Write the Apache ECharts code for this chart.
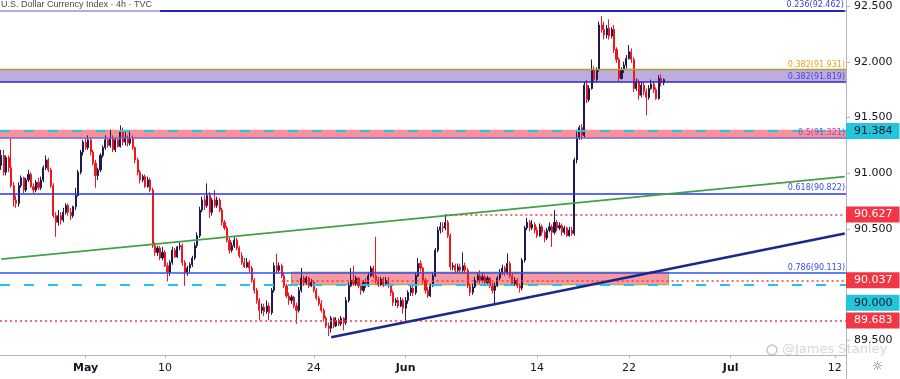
<!DOCTYPE html>
<html><head><meta charset="utf-8">
<script src="https://cdn.jsdelivr.net/npm/echarts@6/dist/echarts.min.js"></script>
<style>html,body{margin:0;padding:0;background:#fff}#c{width:900px;height:379px}</style>
</head><body><div id="c"></div>
<script>
// 4h bars, U.S. Dollar Currency Index
const opens = [
91.07,91.16,91.01,91.14,91.05,90.89,90.76,90.73,90.89,90.96,
90.85,90.94,90.99,90.88,90.85,90.92,90.87,90.94,91.05,91.12,
91.03,90.89,90.62,90.56,90.62,90.58,90.65,90.71,90.65,90.62,
90.70,90.80,91.01,91.19,91.28,91.23,91.30,91.19,91.09,90.98,
91.03,91.16,91.23,91.30,91.25,91.31,91.21,91.30,91.24,91.37,
91.28,91.32,91.27,91.31,91.23,91.12,91.01,90.94,90.97,90.88,
90.94,90.85,90.35,90.29,90.33,90.24,90.29,90.17,90.11,90.20,
90.31,90.25,90.34,90.35,90.20,90.11,90.15,90.18,90.24,90.35,
90.44,90.67,90.76,90.71,90.80,90.65,90.76,90.71,90.76,90.67,
90.56,90.51,90.40,90.31,90.35,90.40,90.33,90.26,90.20,90.16,
90.20,90.15,90.04,89.95,89.86,89.77,89.80,89.76,89.81,89.75,
89.95,90.17,90.13,90.17,90.08,89.99,89.90,89.86,89.89,89.81,
89.77,89.95,90.06,90.02,90.06,89.99,90.02,89.95,89.88,89.83,
89.77,89.70,89.63,89.61,89.70,89.63,89.68,89.65,89.70,89.66,
89.86,89.99,90.04,90.01,90.06,89.99,89.95,90.02,89.99,90.08,
90.15,90.08,90.04,90.00,90.05,90.00,90.04,89.99,89.93,89.84,
89.86,89.81,89.86,89.79,89.86,89.93,89.97,89.93,90.08,90.19,
90.15,90.04,89.95,89.90,89.99,90.08,90.31,90.49,90.52,90.51,
90.56,90.44,90.16,90.17,90.13,90.16,90.13,90.17,90.13,89.99,
89.93,89.98,90.04,90.08,90.04,90.07,90.02,90.06,89.99,89.95,
89.99,90.06,90.11,90.15,90.11,90.19,90.08,90.01,90.04,89.99,
89.97,90.22,90.51,90.56,90.51,90.54,90.49,90.44,90.52,90.47,
90.42,90.49,90.52,90.47,90.56,90.51,90.53,90.47,90.51,90.44,
90.49,90.46,91.12,91.32,91.41,91.34,91.79,91.66,91.76,91.93,
91.84,91.93,92.33,92.29,92.24,92.30,92.23,92.29,92.11,92.02,
91.85,91.93,91.97,92.03,92.09,92.02,91.76,91.82,91.70,91.79,
91.73,91.68,91.76,91.80,91.75,91.67,91.85,91.81];
const closes = [
91.16,91.01,91.14,91.05,90.89,90.76,90.73,90.89,90.96,90.85,
90.94,90.99,90.88,90.85,90.92,90.87,90.94,91.05,91.12,91.03,
90.89,90.62,90.56,90.62,90.58,90.65,90.71,90.65,90.62,90.70,
90.80,91.01,91.19,91.28,91.23,91.30,91.19,91.09,90.98,91.03,
91.16,91.23,91.30,91.25,91.31,91.21,91.30,91.24,91.37,91.28,
91.32,91.27,91.31,91.23,91.12,91.01,90.94,90.97,90.88,90.94,
90.85,90.35,90.29,90.33,90.24,90.29,90.17,90.11,90.20,90.31,
90.25,90.34,90.35,90.20,90.11,90.15,90.18,90.24,90.35,90.44,
90.67,90.76,90.71,90.80,90.65,90.76,90.71,90.76,90.67,90.56,
90.51,90.40,90.31,90.35,90.40,90.33,90.26,90.20,90.16,90.20,
90.15,90.04,89.95,89.86,89.77,89.80,89.76,89.81,89.75,89.95,
90.17,90.13,90.17,90.08,89.99,89.90,89.86,89.89,89.81,89.77,
89.95,90.06,90.02,90.06,89.99,90.02,89.95,89.88,89.83,89.77,
89.70,89.63,89.61,89.70,89.63,89.68,89.65,89.70,89.66,89.86,
89.99,90.04,90.01,90.06,89.99,89.95,90.02,89.99,90.08,90.15,
90.08,90.04,90.00,90.05,90.00,90.04,89.99,89.93,89.84,89.86,
89.81,89.86,89.79,89.86,89.93,89.97,89.93,90.08,90.19,90.15,
90.04,89.95,89.90,89.99,90.08,90.31,90.49,90.52,90.51,90.56,
90.44,90.16,90.17,90.13,90.16,90.13,90.17,90.13,89.99,89.93,
89.98,90.04,90.08,90.04,90.07,90.02,90.06,89.99,89.95,89.99,
90.06,90.11,90.15,90.11,90.19,90.08,90.01,90.04,89.99,89.97,
90.22,90.51,90.56,90.51,90.54,90.49,90.44,90.52,90.47,90.42,
90.49,90.52,90.47,90.56,90.51,90.53,90.47,90.51,90.44,90.49,
90.46,91.12,91.32,91.41,91.34,91.79,91.66,91.76,91.93,91.84,
91.93,92.33,92.29,92.24,92.30,92.23,92.29,92.11,92.02,91.85,
91.93,91.97,92.03,92.09,92.02,91.76,91.82,91.70,91.79,91.73,
91.68,91.76,91.80,91.75,91.67,91.85,91.81,91.84];
const highs = [
91.21,91.21,91.16,91.16,91.31,90.92,90.80,90.92,90.98,90.97,
90.96,91.03,91.01,90.91,90.94,90.96,90.97,91.07,91.16,91.14,
91.05,90.91,90.65,90.67,90.65,90.69,90.73,90.73,90.69,90.71,
90.87,91.03,91.21,91.30,91.31,91.34,91.32,91.21,91.12,91.05,
91.18,91.25,91.34,91.32,91.39,91.34,91.32,91.31,91.43,91.41,
91.37,91.34,91.37,91.34,91.24,91.14,91.03,90.99,90.99,90.97,
90.96,90.87,90.38,90.35,90.35,90.34,90.31,90.20,90.22,90.34,
90.33,90.35,90.38,90.37,90.22,90.17,90.20,90.26,90.38,90.47,
90.70,90.79,90.80,90.91,90.83,90.78,90.85,90.79,90.78,90.69,
90.58,90.53,90.42,90.38,90.43,90.42,90.35,90.29,90.24,90.24,
90.22,90.17,90.06,89.97,89.88,89.83,89.83,89.86,89.84,89.97,
90.20,90.28,90.20,90.19,90.11,90.01,89.93,89.91,89.90,89.84,
89.98,90.15,90.08,90.08,90.07,90.05,90.04,89.97,89.90,89.86,
89.79,89.72,89.66,89.72,89.71,89.71,89.70,89.72,89.71,89.89,
90.02,90.15,90.17,90.08,90.07,90.01,90.04,90.06,90.11,90.17,
90.17,90.43,90.07,90.07,90.07,90.07,90.07,90.01,89.95,89.88,
89.89,89.89,89.88,89.89,89.95,89.99,89.99,90.11,90.24,90.22,
90.16,90.06,89.98,90.01,90.11,90.33,90.52,90.56,90.56,90.63,
90.58,90.46,90.20,90.19,90.19,90.19,90.29,90.20,90.15,90.01,
90.01,90.07,90.11,90.13,90.10,90.09,90.08,90.07,90.02,90.02,
90.08,90.14,90.18,90.17,90.28,90.21,90.10,90.07,90.06,90.01,
90.24,90.53,90.60,90.58,90.58,90.56,90.52,90.55,90.54,90.49,
90.51,90.56,90.54,90.67,90.58,90.56,90.55,90.53,90.52,90.52,
90.52,91.14,91.39,91.43,91.44,91.82,91.84,91.79,92.02,91.96,
91.95,92.36,92.41,92.36,92.33,92.38,92.31,92.33,92.13,92.04,
91.95,92.00,92.06,92.15,92.12,92.04,91.85,91.84,91.82,91.82,
91.76,91.79,91.84,91.82,91.77,91.88,91.89,91.85];
const lows = [
91.03,90.98,90.98,91.01,90.87,90.70,90.69,90.70,90.87,90.82,
90.83,90.92,90.87,90.82,90.83,90.85,90.85,90.92,91.03,91.01,
90.87,90.60,90.43,90.53,90.54,90.56,90.63,90.62,90.58,90.60,
90.67,90.79,90.99,91.16,91.21,91.21,91.16,91.07,90.87,90.94,
91.01,91.14,91.21,91.23,91.23,91.19,91.19,91.23,91.23,91.25,
91.25,91.24,91.25,91.21,91.09,90.98,90.91,90.92,90.87,90.87,
90.83,90.33,90.26,90.26,90.22,90.22,90.16,90.03,90.08,90.18,
90.24,90.24,90.31,90.17,89.99,90.08,90.11,90.16,90.22,90.33,
90.42,90.65,90.67,90.69,90.60,90.62,90.69,90.69,90.65,90.53,
90.49,90.38,90.28,90.29,90.33,90.31,90.24,90.18,90.15,90.15,
90.11,90.02,89.92,89.83,89.68,89.74,89.72,89.74,89.68,89.73,
89.93,90.10,90.11,90.06,89.97,89.88,89.82,89.83,89.79,89.65,
89.75,89.93,89.99,90.00,89.97,89.98,89.93,89.86,89.81,89.75,
89.67,89.61,89.54,89.57,89.61,89.62,89.63,89.63,89.59,89.64,
89.84,89.98,89.99,89.99,89.97,89.91,89.93,89.97,89.98,90.07,
90.06,90.01,89.98,89.99,89.98,89.99,89.97,89.90,89.81,89.81,
89.79,89.80,89.74,89.68,89.83,89.90,89.90,89.91,90.07,90.12,
90.01,89.92,89.88,89.89,89.98,90.07,90.29,90.46,90.47,90.49,
90.42,90.13,90.13,90.10,90.11,90.10,90.11,90.10,89.97,89.90,
89.91,89.97,90.02,90.01,90.02,89.99,90.00,89.97,89.92,89.83,
89.98,90.04,90.09,90.08,90.09,90.06,89.99,89.99,89.97,89.93,
89.95,90.20,90.49,90.48,90.49,90.46,90.42,90.43,90.44,90.38,
90.40,90.47,90.34,90.45,90.48,90.49,90.44,90.45,90.43,90.43,
90.44,90.44,91.09,91.30,91.30,91.32,91.63,91.64,91.75,91.81,
91.82,91.91,92.26,92.20,92.21,92.20,92.21,92.08,91.99,91.82,
91.84,91.90,91.94,92.02,91.99,91.73,91.74,91.66,91.68,91.70,
91.52,91.66,91.75,91.72,91.66,91.66,91.78,91.79];

// time-axis slots (bars plus empty future space) and tick labels
const slotCount = 341;
const tickIndex = [34, 66, 126, 163, 216, 253, 294, 336];
const tickText = ['May', '10', '24', 'Jun', '14', '22', 'Jul', '12'];
const monthTicks = ['May', 'Jun', 'Jul'];

// drawn levels
const fibValues = [92.462, 91.931, 91.819, 91.321, 90.822, 90.113];
const fibText = ['0.236(92.462)', '0.382(91.931)', '0.382(91.819)', '0.5(91.321)', '0.618(90.822)', '0.786(90.113)'];
const cyanLevels = [91.384, 90.000];
const redLevels = [90.627, 90.037, 89.683];
const redLevelStart = [179, 113, 0];
const greenTrend = [[0, 90.23], [340, 90.97]];
const navyTrend = [[133, 89.53], [340, 90.46]];
const supportBox = [[117, 90.113], [269, 90.0]];
const redBand = [91.321, 91.39];
const purpleBand = [91.819, 91.931];

const cats = Array.from({length: slotCount}, (_, i) => String(i));
const candles = opens.map((o, i) => [o, closes[i], lows[i], highs[i]]);

const FONT = 'DejaVu Sans';
const fibColors = ['#3d3dd8', '#f0a020', '#4646d8', '#9a4fc0', '#3b4bf0', '#3b4bf0'];
const fibLineColors = ['#2424c0', '#a8a628', '#2a2ac8', '#7a5ad0', '#1f35ff', '#3550e8'];
const fibWidths = [2, 1.3, 1.6, 1.5, 1.5, 1.5];

const ml = [];
ml.push({yAxis: fibValues[0], lineStyle: {color: '#a8b0ea', width: 2, type: 'solid'}, label: {show: false}});
fibValues.forEach((v, k) => {
  const lab = {show: true, position: 'insideEndTop', formatter: fibText[k], color: fibColors[k],
    fontSize: 8, fontFamily: FONT, distance: 1};
  if (k === 0) {
    ml.push([{coord: [64, v], lineStyle: {color: fibLineColors[k], width: fibWidths[k], type: 'solid'}, label: lab}, {coord: [340, v]}]);
  } else {
    ml.push({yAxis: v, lineStyle: {color: fibLineColors[k], width: fibWidths[k], type: 'solid'}, label: lab});
  }
});
cyanLevels.forEach(v => {
  ml.push({yAxis: v, lineStyle: {color: '#26c6da', width: 2, type: [10, 14]}, label: {show: false}});
});
redLevels.forEach((v, k) => {
  if (redLevelStart[k] > 0) {
    ml.push([{coord: [redLevelStart[k], v], lineStyle: {color: '#f23645', width: 1.6, type: [2, 3]}, label: {show: false}}, {coord: [340, v]}]);
  } else {
    ml.push({yAxis: v, lineStyle: {color: '#f23645', width: 1.6, type: [2, 3]}, label: {show: false}});
  }
});
ml.push([{coord: greenTrend[0], lineStyle: {color: '#43a047', width: 1.6, type: 'solid'}, label: {show: false}}, {coord: greenTrend[1]}]);
ml.push([{coord: navyTrend[0], lineStyle: {color: '#1a2890', width: 2.6, type: 'solid'}, label: {show: false}}, {coord: navyTrend[1]}]);

const chart = echarts.init(document.getElementById('c'), null, {renderer: 'canvas'});

// price tags on the axis (transparent line, visible label)
function tag(v, bg, fg, dy) {
  return {yAxis: v, lineStyle: {color: 'rgba(0,0,0,0)', width: 1, type: 'solid'},
    label: {show: true, position: 'end', distance: 0, formatter: v.toFixed(3), backgroundColor: bg, color: fg,
      fontSize: 11, fontFamily: FONT, padding: [3, 7, 2, 8], offset: [0, dy || 0]}};
}
const tags = [
  tag(cyanLevels[0], '#22c5dc', '#131722'),
  tag(cyanLevels[1], '#22c5dc', '#131722', 18),
  tag(redLevels[0], '#f23645', '#ffffff'),
  tag(redLevels[1], '#f23645', '#ffffff'),
  tag(redLevels[2], '#f23645', '#ffffff')
];

chart.setOption({
  animation: false,
  backgroundColor: '#ffffff',
  grid: {left: 0, right: 54, top: 0, bottom: 24},
  xAxis: {
    type: 'category', data: cats, boundaryGap: true,
    axisLine: {lineStyle: {color: '#b2b5be', width: 1}},
    axisTick: {show: true, alignWithLabel: true, length: 3, interval: (i) => tickIndex.includes(i), lineStyle: {color: '#b2b5be'}},
    axisLabel: {
      interval: (i) => tickIndex.includes(i), margin: 8,
      formatter: (v, i) => { const t = tickText[tickIndex.indexOf(i)] || ''; return monthTicks.includes(t) ? '{m|' + t + '}' : t; },
      color: '#131722', fontSize: 11, fontFamily: FONT,
      rich: {m: {fontWeight: 'bold', fontSize: 11, fontFamily: FONT, color: '#131722'}}
    },
    splitLine: {show: false}
  },
  yAxis: {
    type: 'value', position: 'right', min: 89.37, max: 92.554, scale: true,
    axisLine: {show: true, lineStyle: {color: '#b2b5be'}},
    axisTick: {show: true, length: 4, lineStyle: {color: '#b2b5be'}},
    splitLine: {show: false},
    axisLabel: {
      showMinLabel: false, showMaxLabel: false, margin: 8,
      formatter: (v) => Math.abs(v - 90) < 1e-6 ? '' : v.toFixed(3),
      color: '#131722', fontSize: 11, fontFamily: FONT
    }
  },
  series: [{
    type: 'candlestick', data: candles, barWidth: 1.6,
    itemStyle: {color: '#1d1a50', color0: '#f2161b', borderColor: '#1d1a50', borderColor0: '#f2161b', borderWidth: 1},
    markArea: {
      silent: true,
      data: [
        [{yAxis: purpleBand[0], itemStyle: {color: 'rgba(126,87,194,0.5)'}}, {yAxis: purpleBand[1]}],
        [{yAxis: redBand[0], itemStyle: {color: 'rgba(242,54,69,0.55)'}}, {yAxis: redBand[1]}],
        [{coord: supportBox[0], itemStyle: {color: 'rgba(242,54,69,0.5)', borderColor: '#7cb342', borderWidth: 1}}, {coord: supportBox[1]}]
      ]
    },
    markLine: {silent: true, symbol: 'none', animation: false, label: {show: false}, data: ml}
  }, {
    type: 'line', data: [], silent: true,
    markLine: {silent: true, symbol: 'none', animation: false, z: 10, data: tags}
  }],
  graphic: [
    {type: 'text', left: 1, top: 0, style: {text: 'U.S. Dollar Currency Index · 4h · TVC', font: '9px "Liberation Sans"', fill: '#4a4a4a'}},
    {type: 'line', shape: {x1: 846.5, y1: 355, x2: 846.5, y2: 379}, style: {stroke: '#b2b5be', lineWidth: 1}},
    {type: 'text', x: 872, y: 361, style: {text: '☼', font: '12px "DejaVu Sans"', fill: '#666'}},
    {type: 'circle', shape: {cx: 772, cy: 350, r: 5}, style: {stroke: 'rgba(150,150,150,0.55)', fill: 'none', lineWidth: 1.5}},
    {type: 'text', x: 782, y: 343, style: {text: '@James Stanley', font: '13px "DejaVu Sans"', fill: 'rgba(165,165,165,0.45)'}}
  ]
});
</script>
</body></html>
